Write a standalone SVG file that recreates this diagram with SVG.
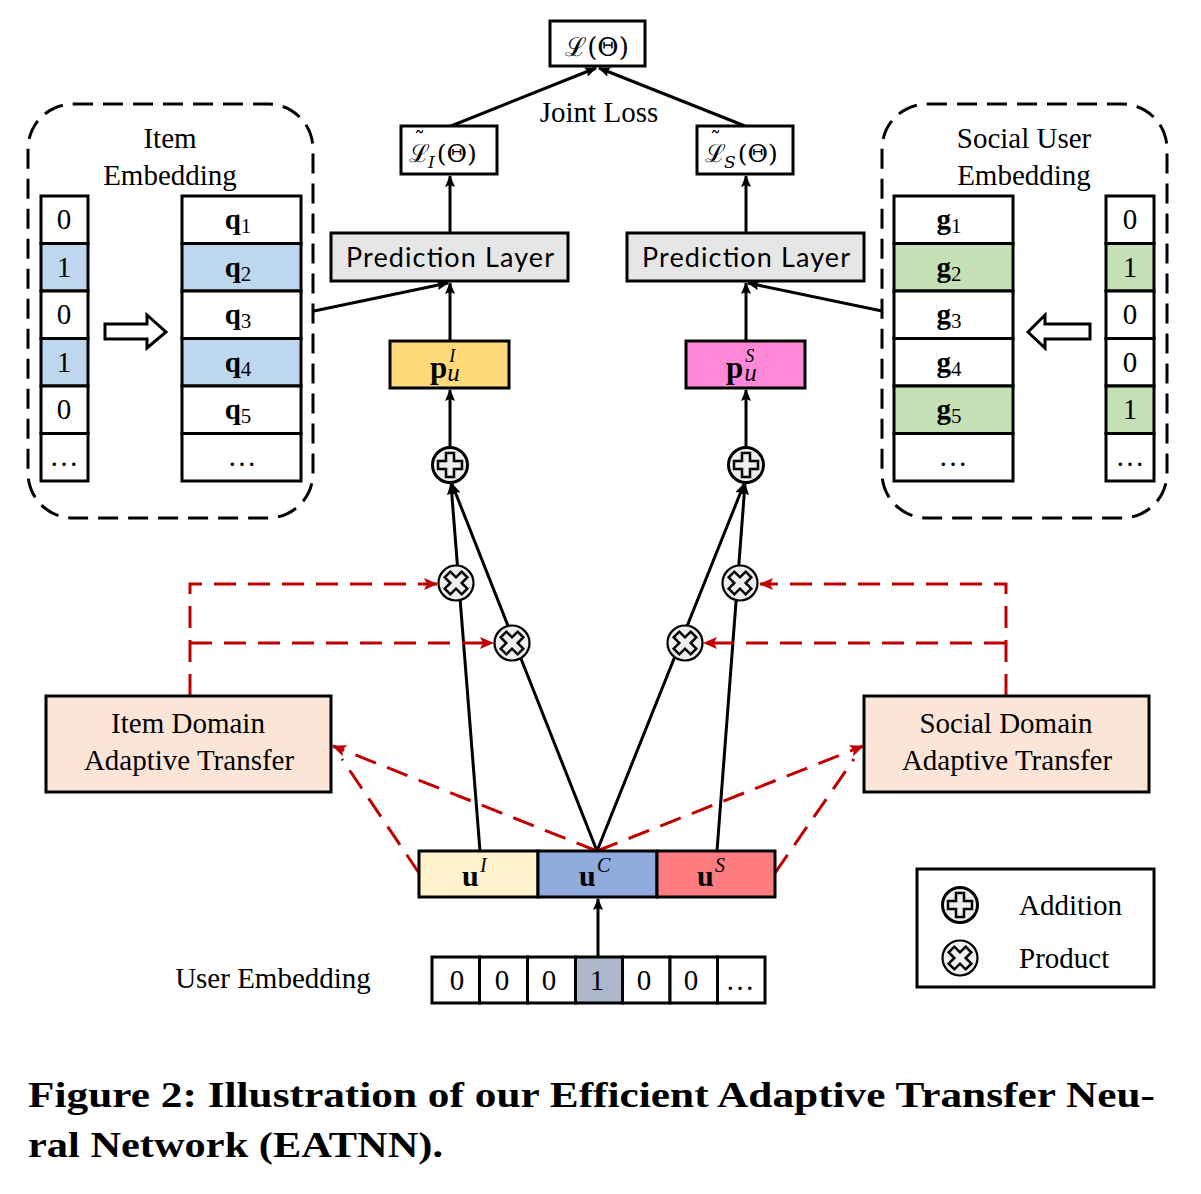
<svg xmlns="http://www.w3.org/2000/svg" width="1201" height="1194" viewBox="0 0 1201 1194">
<style>
.box{stroke:#000;stroke-width:3}
.ser{font-family:"Liberation Serif","Times New Roman",serif;font-size:29px;fill:#000}
.math{font-family:"DejaVu Serif","Liberation Serif",serif;font-size:25px;fill:#000}
.sans{font-family:Lato,"Open Sans","Noto Sans",sans-serif;font-size:27px;fill:#000}
.mid{text-anchor:middle}
.con{stroke:#000;stroke-width:3;fill:none}
.red{stroke:#c00000;stroke-width:3;fill:none;stroke-dasharray:22 12}
.dash{stroke:#000;stroke-width:3;fill:none;stroke-dasharray:20 10}
.b{font-weight:bold}
.it{font-style:italic}
</style>
<defs>
<marker id="ab" markerUnits="userSpaceOnUse" markerWidth="12" markerHeight="10" refX="11" refY="5" orient="auto">
<path d="M0,0 L12,5 L0,10 L2,5 z" fill="#000"/>
</marker>
<marker id="ar" markerUnits="userSpaceOnUse" markerWidth="14" markerHeight="12" refX="13" refY="6" orient="auto">
<path d="M0,0 L14,6 L0,12 L3,6 z" fill="#c00000"/>
</marker>
<g id="add">
<circle r="17.5" fill="#eeeeee" stroke="#000" stroke-width="3"/>
<polygon points="-4,-12 4,-12 4,-4 12,-4 12,4 4,4 4,12 -4,12 -4,4 -12,4 -12,-4 -4,-4" fill="#eeeeee" stroke="#000" stroke-width="2.5"/>
</g>
<g id="prod">
<circle r="17.5" fill="#eeeeee" stroke="#000" stroke-width="2.2"/>
<polygon points="-4,-12 4,-12 4,-4 12,-4 12,4 4,4 4,12 -4,12 -4,4 -12,4 -12,-4 -4,-4" transform="rotate(45)" fill="#eeeeee" stroke="#000" stroke-width="2.5"/>
</g>
</defs>
<rect width="1201" height="1194" fill="#fff"/>

<g id="connectors">
<line class="con" x1="451" y1="126" x2="596" y2="68" marker-end="url(#ab)"/>
<line class="con" x1="745" y1="126" x2="599" y2="68" marker-end="url(#ab)"/>
<line class="con" x1="450" y1="233" x2="450" y2="176" marker-end="url(#ab)"/>
<line class="con" x1="746" y1="233" x2="746" y2="176" marker-end="url(#ab)"/>
<line class="con" x1="450" y1="341" x2="450" y2="283" marker-end="url(#ab)"/>
<line class="con" x1="746" y1="341" x2="746" y2="283" marker-end="url(#ab)"/>
<line class="con" x1="314" y1="311" x2="448" y2="283" marker-end="url(#ab)"/>
<line class="con" x1="882" y1="311" x2="748" y2="283" marker-end="url(#ab)"/>
<line class="con" x1="450" y1="447" x2="450" y2="390" marker-end="url(#ab)"/>
<line class="con" x1="746" y1="447" x2="746" y2="390" marker-end="url(#ab)"/>
<line class="con" x1="480" y1="851" x2="451" y2="484" marker-end="url(#ab)"/>
<line class="con" x1="597" y1="851" x2="452" y2="484" marker-end="url(#ab)"/>
<line class="con" x1="597" y1="851" x2="744" y2="484" marker-end="url(#ab)"/>
<line class="con" x1="717" y1="851" x2="745" y2="484" marker-end="url(#ab)"/>
<line class="con" x1="598" y1="957" x2="598" y2="899" marker-end="url(#ab)"/>
<path class="red" d="M190,696 V584 H437" marker-end="url(#ar)"/>
<path class="red" d="M190,643 H493" marker-end="url(#ar)"/>
<path class="red" d="M1006,696 V584 H760" marker-end="url(#ar)"/>
<path class="red" d="M1006,643 H704" marker-end="url(#ar)"/>
<path class="red" d="M597,851 L333,746" marker-end="url(#ar)"/>
<path class="red" d="M419,873 L342,759"/>
<path class="red" d="M597,851 L863,746" marker-end="url(#ar)"/>
<path class="red" d="M775,873 L854,759"/>
</g>

<g id="loss">
<rect class="box" x="550" y="21" width="95" height="45" fill="#fff"/>
<text class="math mid" x="597" y="56" style="font-size:26px">ℒ(Θ)</text>
</g>
<text class="ser mid" x="599" y="122">Joint Loss</text>

<g id="lossI">
<rect class="box" x="401" y="126" width="96" height="48" fill="#fff"/>
<text class="math" x="409" y="162">ℒ<tspan font-size="22" dx="-16" dy="-14">˜</tspan><tspan class="it" font-size="17" dx="3" dy="20">I</tspan><tspan dx="2" dy="-6">(Θ)</tspan></text>
</g>
<g id="lossS">
<rect class="box" x="697" y="126" width="96" height="48" fill="#fff"/>
<text class="math" x="705" y="162">ℒ<tspan font-size="22" dx="-16" dy="-14">˜</tspan><tspan class="it" font-size="17" dx="3" dy="20">S</tspan><tspan dx="2" dy="-6">(Θ)</tspan></text>
</g>

<g id="predI">
<rect class="box" x="331" y="233" width="237" height="48" fill="#e7e6e6"/>
<text class="sans mid" x="450" y="267" textLength="208">Prediction Layer</text>
</g>
<g id="predS">
<rect class="box" x="627" y="233" width="237" height="48" fill="#e7e6e6"/>
<text class="sans mid" x="746" y="267" textLength="208">Prediction Layer</text>
</g>

<g id="pI">
<rect class="box" x="390" y="341" width="119" height="47" fill="#ffd97a"/>
<text class="ser b" x="430" y="378" style="font-size:31px">p<tspan class="it" font-weight="normal" font-size="18" dx="2" dy="-16">I</tspan><tspan class="it" font-weight="normal" font-size="25" dx="-8" dy="19">u</tspan></text>
</g>
<g id="pS">
<rect class="box" x="686" y="341" width="119" height="47" fill="#ff89d8"/>
<text class="ser b" x="726" y="378" style="font-size:31px">p<tspan class="it" font-weight="normal" font-size="18" dx="2" dy="-16">S</tspan><tspan class="it" font-weight="normal" font-size="25" dx="-10" dy="19">u</tspan></text>
</g>

<g id="addI"><use href="#add" x="450" y="465"/></g>
<g id="addS"><use href="#add" x="746" y="465"/></g>
<g id="prodI1"><use href="#prod" x="456" y="583"/></g>
<g id="prodI2"><use href="#prod" x="512" y="643"/></g>
<g id="prodS2"><use href="#prod" x="685" y="643"/></g>
<g id="prodS1"><use href="#prod" x="740" y="583"/></g>

<g id="itemDomain">
<rect class="box" x="46" y="696" width="285" height="96" fill="#fbe5d6"/>
<text class="ser mid" x="188" y="733">Item Domain</text>
<text class="ser mid" x="189" y="770">Adaptive Transfer</text>
</g>
<g id="socialDomain">
<rect class="box" x="864" y="696" width="285" height="96" fill="#fbe5d6"/>
<text class="ser mid" x="1006" y="733">Social Domain</text>
<text class="ser mid" x="1007" y="770">Adaptive Transfer</text>
</g>

<g id="userVec">
<rect class="box" x="419" y="851" width="119" height="46" fill="#fff2cc"/>
<rect class="box" x="538" y="851" width="119" height="46" fill="#8faadc"/>
<rect class="box" x="657" y="851" width="118" height="46" fill="#ff7c80"/>
<text class="ser b" x="462" y="886" style="font-size:30px">u</text>
<text class="ser it" x="480" y="872" style="font-size:20px">I</text>
<text class="ser b" x="579" y="886" style="font-size:30px">u</text>
<text class="ser it" x="597" y="872" style="font-size:20px">C</text>
<text class="ser b" x="697" y="886" style="font-size:30px">u</text>
<text class="ser it" x="715" y="872" style="font-size:20px">S</text>
</g>

<g id="userEmbedding">
<text class="ser mid" x="273" y="988">User Embedding</text>
<rect class="box" x="432" y="957" width="47.5" height="46" fill="#fff"/>
<rect class="box" x="479.5" y="957" width="48" height="46" fill="#fff"/>
<rect class="box" x="527.5" y="957" width="48" height="46" fill="#fff"/>
<rect class="box" x="575.5" y="957" width="47" height="46" fill="#adb9ca"/>
<rect class="box" x="622.5" y="957" width="47.5" height="46" fill="#fff"/>
<rect class="box" x="670" y="957" width="47.5" height="46" fill="#fff"/>
<rect class="box" x="717.5" y="957" width="47.5" height="46" fill="#fff"/>
<text class="ser mid" x="457" y="990">0</text>
<text class="ser mid" x="502" y="990">0</text>
<text class="ser mid" x="549" y="990">0</text>
<text class="ser mid" x="597" y="990">1</text>
<text class="ser mid" x="644" y="990">0</text>
<text class="ser mid" x="691" y="990">0</text>
<text class="ser mid" x="740" y="990">…</text>
</g>

<g id="legend">
<rect class="box" x="917" y="869" width="237" height="118" fill="#fff"/>
<use href="#add" x="960" y="905"/>
<use href="#prod" x="960" y="958"/>
<text class="ser" x="1019" y="915">Addition</text>
<text class="ser" x="1019" y="968">Product</text>
</g>

<g id="itemEmbedding">
<rect class="dash" x="28" y="104" width="285" height="414" rx="45"/>
<text class="ser mid" x="170" y="148">Item</text>
<text class="ser mid" x="170" y="185">Embedding</text>
<g class="box">
<rect x="41" y="196" width="47" height="47.5" fill="#fff"/>
<rect x="41" y="243.5" width="47" height="47.5" fill="#bdd7ee"/>
<rect x="41" y="291" width="47" height="47.5" fill="#fff"/>
<rect x="41" y="338.5" width="47" height="47.5" fill="#bdd7ee"/>
<rect x="41" y="386" width="47" height="47.5" fill="#fff"/>
<rect x="41" y="433.5" width="47" height="47.5" fill="#fff"/>
<rect x="182" y="196" width="119" height="47.5" fill="#fff"/>
<rect x="182" y="243.5" width="119" height="47.5" fill="#bdd7ee"/>
<rect x="182" y="291" width="119" height="47.5" fill="#fff"/>
<rect x="182" y="338.5" width="119" height="47.5" fill="#bdd7ee"/>
<rect x="182" y="386" width="119" height="47.5" fill="#fff"/>
<rect x="182" y="433.5" width="119" height="47.5" fill="#fff"/>
</g>
<text class="ser mid" x="64" y="229">0</text>
<text class="ser mid" x="64" y="277">1</text>
<text class="ser mid" x="64" y="324">0</text>
<text class="ser mid" x="64" y="372">1</text>
<text class="ser mid" x="64" y="419">0</text>
<text class="ser mid" x="64" y="466">…</text>
<text class="ser mid" x="238" y="229"><tspan class="b">q</tspan><tspan font-size="21" dy="4">1</tspan></text>
<text class="ser mid" x="238" y="277"><tspan class="b">q</tspan><tspan font-size="21" dy="4">2</tspan></text>
<text class="ser mid" x="238" y="324"><tspan class="b">q</tspan><tspan font-size="21" dy="4">3</tspan></text>
<text class="ser mid" x="238" y="372"><tspan class="b">q</tspan><tspan font-size="21" dy="4">4</tspan></text>
<text class="ser mid" x="238" y="419"><tspan class="b">q</tspan><tspan font-size="21" dy="4">5</tspan></text>
<text class="ser mid" x="242" y="466">…</text>
<polygon points="105,324 147,324 147,315 166,332 147,348 147,339 105,339" fill="#fff" stroke="#000" stroke-width="3"/>
</g>

<g id="socialEmbedding">
<rect class="dash" x="882" y="104" width="285" height="414" rx="45"/>
<text class="ser mid" x="1024" y="148">Social User</text>
<text class="ser mid" x="1024" y="185">Embedding</text>
<g class="box">
<rect x="894" y="196" width="119" height="47.5" fill="#fff"/>
<rect x="894" y="243.5" width="119" height="47.5" fill="#c5e0b4"/>
<rect x="894" y="291" width="119" height="47.5" fill="#fff"/>
<rect x="894" y="338.5" width="119" height="47.5" fill="#fff"/>
<rect x="894" y="386" width="119" height="47.5" fill="#c5e0b4"/>
<rect x="894" y="433.5" width="119" height="47.5" fill="#fff"/>
<rect x="1106" y="196" width="48" height="47.5" fill="#fff"/>
<rect x="1106" y="243.5" width="48" height="47.5" fill="#c5e0b4"/>
<rect x="1106" y="291" width="48" height="47.5" fill="#fff"/>
<rect x="1106" y="338.5" width="48" height="47.5" fill="#fff"/>
<rect x="1106" y="386" width="48" height="47.5" fill="#c5e0b4"/>
<rect x="1106" y="433.5" width="48" height="47.5" fill="#fff"/>
</g>
<text class="ser mid" x="949" y="229"><tspan class="b">g</tspan><tspan font-size="21" dy="4">1</tspan></text>
<text class="ser mid" x="949" y="277"><tspan class="b">g</tspan><tspan font-size="21" dy="4">2</tspan></text>
<text class="ser mid" x="949" y="324"><tspan class="b">g</tspan><tspan font-size="21" dy="4">3</tspan></text>
<text class="ser mid" x="949" y="372"><tspan class="b">g</tspan><tspan font-size="21" dy="4">4</tspan></text>
<text class="ser mid" x="949" y="419"><tspan class="b">g</tspan><tspan font-size="21" dy="4">5</tspan></text>
<text class="ser mid" x="953" y="466">…</text>
<text class="ser mid" x="1130" y="229">0</text>
<text class="ser mid" x="1130" y="277">1</text>
<text class="ser mid" x="1130" y="324">0</text>
<text class="ser mid" x="1130" y="372">0</text>
<text class="ser mid" x="1130" y="419">1</text>
<text class="ser mid" x="1130" y="466">…</text>
<polygon points="1090,324 1045,324 1045,315 1028,332 1045,348 1045,339 1090,339" fill="#fff" stroke="#000" stroke-width="3"/>
</g>

<g id="caption">
<text class="ser b" x="28" y="1107" style="font-size:36px" textLength="1127" lengthAdjust="spacingAndGlyphs">Figure 2: Illustration of our Efficient Adaptive Transfer Neu-</text>
<text class="ser b" x="28" y="1157" style="font-size:36px" textLength="415" lengthAdjust="spacingAndGlyphs">ral Network (EATNN).</text>
</g>
</svg>
